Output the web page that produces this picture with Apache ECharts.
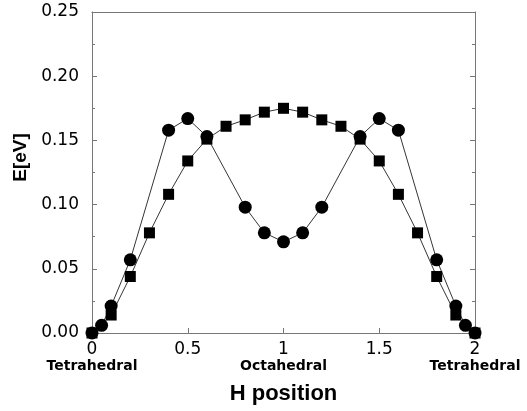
<!DOCTYPE html>
<html>
<head>
<meta charset="utf-8">
<script src="https://cdn.jsdelivr.net/npm/echarts@6/dist/echarts.min.js"></script>
<style>
  html, body { margin: 0; padding: 0; background: #fff; }
  #chart { width: 527px; height: 411px; }
</style>
</head>
<body>
<div id="chart"></div>
<script>
// H position along the path, and energies for the two curves.
var circleX = [0, 0.05, 0.1, 0.2, 0.4, 0.5, 0.6, 0.8, 0.9, 1.0, 1.1, 1.2, 1.4, 1.5, 1.6, 1.8, 1.9, 1.95, 2.0];
var circleE = [0, 0.006, 0.021, 0.057, 0.158, 0.167, 0.153, 0.098, 0.078, 0.071, 0.078, 0.098, 0.153, 0.167, 0.158, 0.057, 0.021, 0.006, 0];

var squareX = [0, 0.1, 0.2, 0.3, 0.4, 0.5, 0.6, 0.7, 0.8, 0.9, 1.0, 1.1, 1.2, 1.3, 1.4, 1.5, 1.6, 1.7, 1.8, 1.9, 2.0];
var squareE = [0, 0.014, 0.044, 0.078, 0.108, 0.134, 0.151, 0.161, 0.166, 0.172, 0.175, 0.172, 0.166, 0.161, 0.151, 0.134, 0.108, 0.078, 0.044, 0.014, 0];

var xTickLabels = { 0: '0', 0.5: '0.5', 1: '1', 1.5: '1.5', 2: '2' };
var siteLabels = { 0: 'Tetrahedral', 1: 'Octahedral', 2: 'Tetrahedral' };

var font = '"Liberation Sans", Arial, sans-serif';
var wideFont = '"DejaVu Sans", sans-serif';
var axisColor = '#777';

function pairs(xs, ys) {
  return xs.map(function (x, i) { return [x, ys[i]]; });
}

var myChart = echarts.init(document.getElementById('chart'));

var option = {
  animation: false,
  grid: { left: 92, right: 52, top: 12, bottom: 78 },
  xAxis: [{
    type: 'value',
    min: 0,
    max: 2,
    interval: 0.5,
    name: 'H position',
    nameLocation: 'middle',
    nameGap: 50,
    nameTextStyle: { fontFamily: font, fontWeight: 'bold', fontSize: 22, color: '#000' },
    axisLine: { onZero: false, lineStyle: { color: axisColor, width: 1 } },
    axisTick: { inside: true, length: 5, lineStyle: { color: axisColor } },
    splitLine: { show: false },
    axisLabel: {
      margin: 9,
      fontFamily: wideFont,
      fontSize: 17,
      color: '#000',
      lineHeight: 16,
      formatter: function (v) {
        var s = xTickLabels[v];
        if (siteLabels[v]) {
          s += '\n{b|' + siteLabels[v] + '}';
        }
        return s;
      },
      rich: {
        b: { fontFamily: wideFont, fontWeight: 'bold', fontSize: 14, color: '#000', lineHeight: 16 }
      }
    }
  }, {
    type: 'value',
    position: 'top',
    min: 0,
    max: 2,
    interval: 0.5,
    axisLine: { show: true, onZero: false, lineStyle: { color: axisColor, width: 1 } },
    axisTick: { show: false },
    axisLabel: { show: false },
    splitLine: { show: false }
  }],
  yAxis: [{
    type: 'value',
    min: 0,
    max: 0.25,
    interval: 0.05,
    name: 'E[eV]',
    nameLocation: 'middle',
    nameRotate: 90,
    nameGap: 59,
    nameTextStyle: { fontFamily: font, fontWeight: 'bold', fontSize: 19, color: '#000', padding: [0, 0, 0, 30] },
    axisLine: { show: true, onZero: false, lineStyle: { color: axisColor, width: 1 } },
    axisTick: { inside: true, length: 5, lineStyle: { color: axisColor } },
    minorTick: { show: true, splitNumber: 2, length: 3, lineStyle: { color: axisColor } },
    splitLine: { show: false },
    axisLabel: {
      margin: 13,
      fontFamily: wideFont,
      fontSize: 17,
      color: '#000',
      formatter: function (v) { return v.toFixed(2); }
    }
  }, {
    type: 'value',
    position: 'right',
    min: 0,
    max: 0.25,
    interval: 0.05,
    axisLine: { show: true, onZero: false, lineStyle: { color: axisColor, width: 1 } },
    axisTick: { inside: true, length: 5, lineStyle: { color: axisColor } },
    minorTick: { show: true, splitNumber: 2, length: 3, lineStyle: { color: axisColor } },
    axisLabel: { show: false },
    splitLine: { show: false }
  }],
  series: [{
    type: 'line',
    data: pairs(squareX, squareE),
    symbol: 'rect',
    symbolSize: 11,
    lineStyle: { color: '#000', width: 0.8 },
    itemStyle: { color: '#000' },
    z: 3
  }, {
    type: 'line',
    data: pairs(circleX, circleE),
    symbol: 'circle',
    symbolSize: 13,
    lineStyle: { color: '#000', width: 0.8 },
    itemStyle: { color: '#000' },
    z: 4
  }]
};

myChart.setOption(option);
</script>
</body>
</html>
